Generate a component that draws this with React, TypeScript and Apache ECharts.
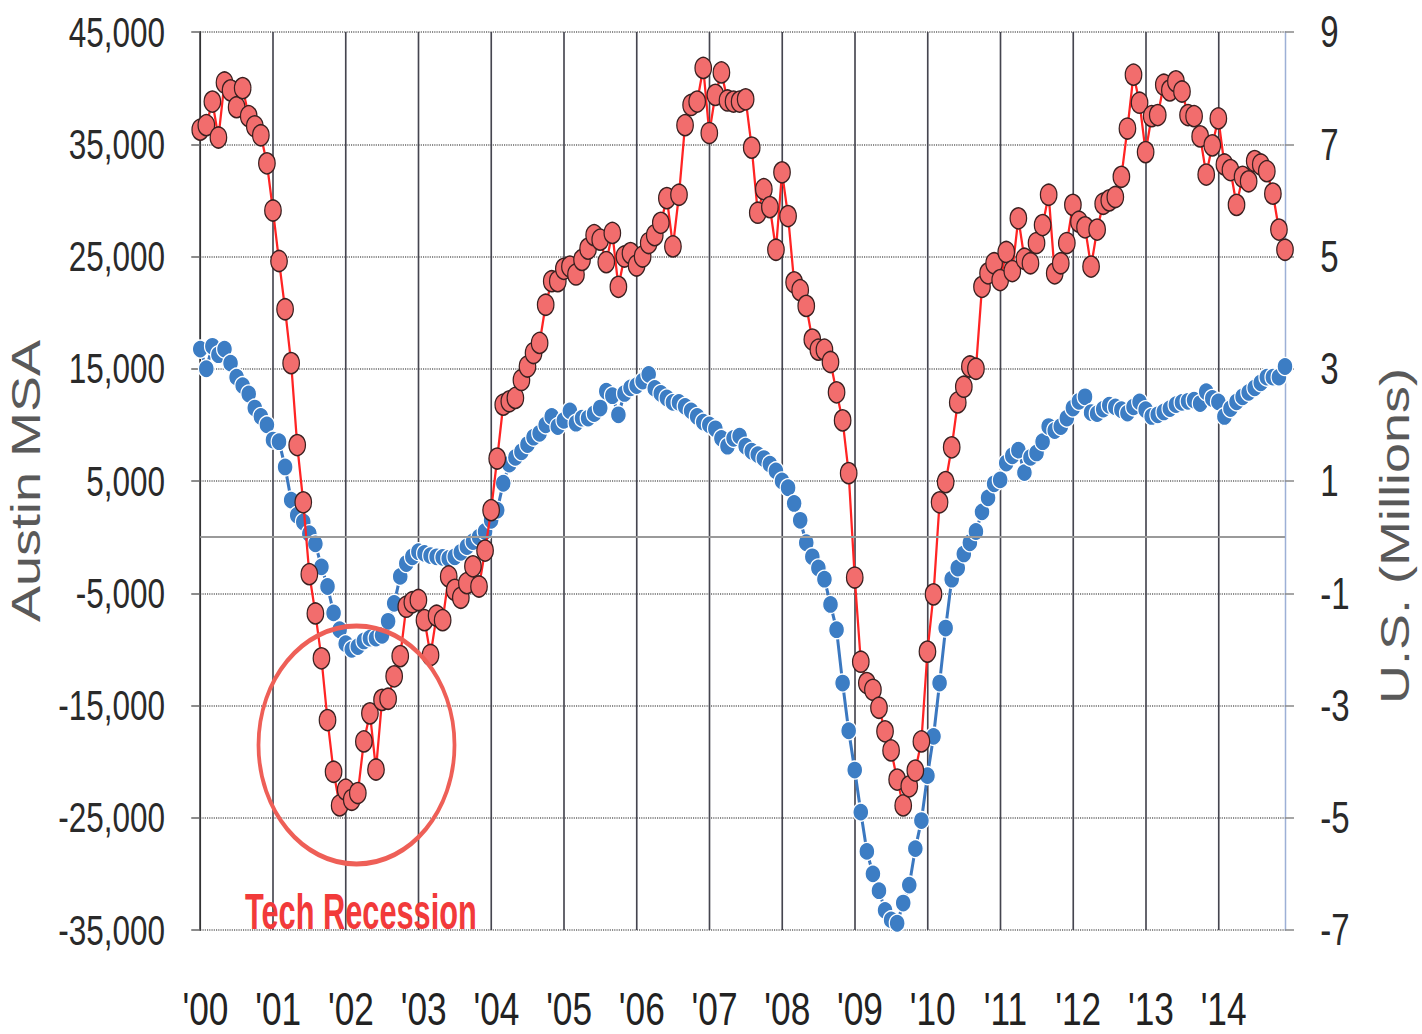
import React, { useEffect, useRef } from "react";
import * as echarts from "echarts";

// Year labels for the x axis (one tick per January)
const yearLabels = ["00", "01", "02", "03", "04", "05", "06", "07", "08", "09", "10", "11", "12", "13", "14"];

// Austin MSA: year-over-year job change (left axis), monthly Jan 2000 .. Dec 2014
const austinMSA = [
  36300, 36700, 38800, 35600, 40500, 39800, 38300, 40000, 37500, 36600, 35800, 33300,
  29100, 24600, 20300, 15500, 8200, 3100, -3300, -6800, -10800, -16300, -20900, -23900,
  -22500, -23400, -22800, -18200, -15700, -20700, -14500, -14400, -12400, -10600, -6200, -5800,
  -5600, -7400, -10500, -7000, -7400, -3500, -4700, -5400, -4100, -2600, -4400, -1200,
  2400, 7000, 11800, 12100, 12400, 14000, 15200, 16400, 17300, 20700, 22800, 22800,
  23900, 24100, 23400, 24700, 25700, 26900, 26500, 24500, 27100, 22300, 25000, 25300,
  24200, 25000, 26200, 26900, 28000, 30200, 25900, 30500, 36700, 38500, 38800, 41800,
  36000, 39400, 41400, 38900, 38800, 38800, 39000, 34700, 28900, 31000, 29400, 25600,
  32500, 28600, 22700, 22000, 20600, 17600, 16700, 16700, 15600, 12900, 10400, 5700,
  -3600, -11100, -13000, -13600, -15200, -17300, -19000, -21600, -23900, -22200, -20800, -18200,
  -10200, -5100, 3100, 4900, 8000, 12000, 13400, 15200, 15000, 22300, 23500, 24400,
  22900, 25400, 23700, 28400, 24800, 24400, 26200, 27800, 30500, 23500, 24400, 26200,
  29600, 28100, 27600, 24100, 27400, 29700, 30000, 30300, 32100, 36400, 41200, 38700,
  34300, 37500, 37600, 40300, 39800, 40600, 39700, 37600, 37500, 35700, 32300, 34900,
  37300, 33200, 32700, 29600, 32100, 31700, 33500, 33200, 32600, 30600, 27400, 25600,
];

// U.S.: year-over-year job change in millions (right axis)
const usMillions = [
  3.35, 3.0, 3.4, 3.25, 3.35, 3.1, 2.85, 2.7, 2.55, 2.3, 2.15, 2.0,
  1.73, 1.7, 1.25, 0.66, 0.39, 0.27, 0.06, -0.12, -0.53, -0.88, -1.35, -1.65,
  -1.9, -2.0, -1.95, -1.85, -1.8, -1.8, -1.75, -1.5, -1.18, -0.7, -0.47, -0.35,
  -0.26, -0.29, -0.33, -0.35, -0.36, -0.38, -0.35, -0.27, -0.17, -0.08, 0.0, 0.1,
  0.3, 0.48, 0.96, 1.3, 1.42, 1.52, 1.65, 1.78, 1.85, 2.0, 2.15, 1.97,
  2.08, 2.25, 2.03, 2.12, 2.12, 2.2, 2.3, 2.6, 2.52, 2.18, 2.56, 2.66,
  2.7, 2.78, 2.9, 2.65, 2.56, 2.48, 2.4, 2.4, 2.33, 2.25, 2.15, 2.05,
  2.0, 1.93, 1.76, 1.62, 1.76, 1.8, 1.62, 1.53, 1.47, 1.4, 1.3, 1.18,
  1.0, 0.88, 0.6, 0.3, -0.1, -0.35, -0.55, -0.75, -1.2, -1.65, -2.6, -3.45,
  -4.15, -4.9, -5.6, -6.0, -6.3, -6.65, -6.82, -6.88, -6.52, -6.2, -5.55, -5.05,
  -4.25, -3.55, -2.6, -1.62, -0.75, -0.55, -0.3, -0.1, 0.1, 0.45, 0.7, 0.95,
  1.02, 1.32, 1.45, 1.55, 1.15, 1.42, 1.5, 1.7, 1.97, 1.9, 1.97, 2.12,
  2.3, 2.42, 2.5, 2.22, 2.2, 2.28, 2.35, 2.32, 2.27, 2.21, 2.32, 2.41,
  2.27, 2.15, 2.18, 2.23, 2.29, 2.36, 2.4, 2.42, 2.44, 2.38, 2.59, 2.47,
  2.41, 2.15, 2.29, 2.41, 2.5, 2.58, 2.66, 2.75, 2.85, 2.85, 2.85, 3.04,
];

const W = 1422;
const H = 1034;
const S = 0.75; // horizontal compression of the original picture
const IW = W / S;

export default function App() {
  const ref = useRef<HTMLDivElement>(null);

  useEffect(() => {
    if (!ref.current) return;
    const chart = echarts.init(ref.current, null, { renderer: "svg" });
    const months: string[] = [];
    yearLabels.forEach((y) => {
      for (let m = 1; m <= 12; m++) months.push("20" + y + "-" + String(m).padStart(2, "0"));
    });
    const isYearStart = (index: number) => index % 12 === 0;

    const option: any = {
      animation: false,
      backgroundColor: "#ffffff",
      grid: { left: 197 / S, right: IW - 1285 / S, top: 32, bottom: H - 930, containLabel: false },
      xAxis: {
        type: "category",
        data: months,
        boundaryGap: false,
        axisLine: { show: false },
        axisTick: { show: false },
        axisLabel: {
          interval: (index: number) => isYearStart(index),
          formatter: (val: string) => "'" + val.slice(2, 4),
          fontFamily: "'Liberation Sans Narrow', 'Liberation Sans', sans-serif",
          fontSize: 47,
          lineHeight: 47,
          color: "#222",
          margin: 55,
          padding: [0, 0, 0, 14],
        },
        splitLine: {
          show: true,
          interval: (index: number) => isYearStart(index),
          lineStyle: { color: "#45454f", width: 2.2 },
        },
      },
      yAxis: [
        {
          type: "value",
          min: -35000,
          max: 45000,
          interval: 10000,
          position: "left",
          name: "Austin MSA",
          nameLocation: "middle",
          nameRotate: 90,
          nameGap: 205,
          nameTextStyle: { fontSize: 54, color: "#595959", fontFamily: "'Liberation Sans', sans-serif" },
          axisLine: { show: true, lineStyle: { color: "#333", width: 2 } },
          axisTick: { show: true, length: 12, lineStyle: { color: "#666", width: 1.5 } },
          axisLabel: {
            fontSize: 42,
            color: "#2a2a2a",
            fontFamily: "'Liberation Sans', sans-serif",
            margin: 47,
            formatter: (v: number) => v.toLocaleString("en-US"),
          },
          splitLine: { show: true, lineStyle: { color: "#666", width: 1.5, type: "dotted" } },
        },
        {
          type: "value",
          min: -7,
          max: 9,
          interval: 2,
          position: "right",
          name: "U.S. (Millions)",
          nameLocation: "middle",
          nameRotate: 90,
          nameGap: 120,
          nameTextStyle: {
            fontSize: 54,
            color: "#595959",
            fontFamily: "'Liberation Sans', sans-serif",
            padding: [0, 110, 0, 0],
          },
          axisLine: { show: true, lineStyle: { color: "#9db0d6", width: 2 } },
          axisTick: { show: true, length: 12, lineStyle: { color: "#888", width: 1.5 } },
          axisLabel: {
            fontSize: 44,
            color: "#2a2a2a",
            fontFamily: "'Liberation Sans', sans-serif",
            margin: 47,
          },
          splitLine: { show: false },
        },
      ],
      series: [
        {
          name: "U.S.",
          type: "line",
          yAxisIndex: 1,
          data: usMillions,
          z: 2,
          symbol: "circle",
          showSymbol: true,
          showAllSymbol: true,
          symbolSize: [21, 18],
          lineStyle: { color: "#3b78c0", width: 4 },
          itemStyle: { color: "#3c7dc4", borderColor: "#ffffff", borderWidth: 1.5 },
          markLine: {
            silent: true,
            symbol: "none",
            label: { show: false },
            lineStyle: { color: "#9a9a9a", width: 2, type: "solid" },
            data: [{ yAxis: 0 }],
          },
        },
        {
          name: "Austin MSA",
          type: "line",
          yAxisIndex: 0,
          data: austinMSA,
          z: 3,
          symbol: "circle",
          showSymbol: true,
          showAllSymbol: true,
          symbolSize: [22, 21],
          lineStyle: { color: "#ff2424", width: 3 },
          itemStyle: { color: "#f26d6d", borderColor: "#3a2020", borderWidth: 1.6 },
        },
      ],
      graphic: [
        {
          type: "ellipse",
          z: 10,
          shape: { cx: 356.5 / S, cy: 745, rx: 98 / S, ry: 119 },
          style: { fill: "none", stroke: "#ee5f57", lineWidth: 5 },
        },
        {
          type: "text",
          z: 10,
          x: 245 / S,
          y: 912,
          scaleX: 0.82,
          style: {
            text: "Tech Recession",
            fontSize: 50,
            fontWeight: "bold",
            fontFamily: "'Liberation Sans Narrow', 'Liberation Sans', sans-serif",
            fill: "#f23a3a",
            verticalAlign: "middle",
            align: "left",
          },
        },
      ],
    };
    chart.setOption(option);
    return () => chart.dispose();
  }, []);

  return (
    <div style={{ position: "fixed", left: 0, top: 0, width: W, height: H, overflow: "hidden", background: "#fff" }}>
      <div
        ref={ref}
        style={{ width: IW, height: H, transform: `scaleX(${S})`, transformOrigin: "0 0" }}
      />
    </div>
  );
}
